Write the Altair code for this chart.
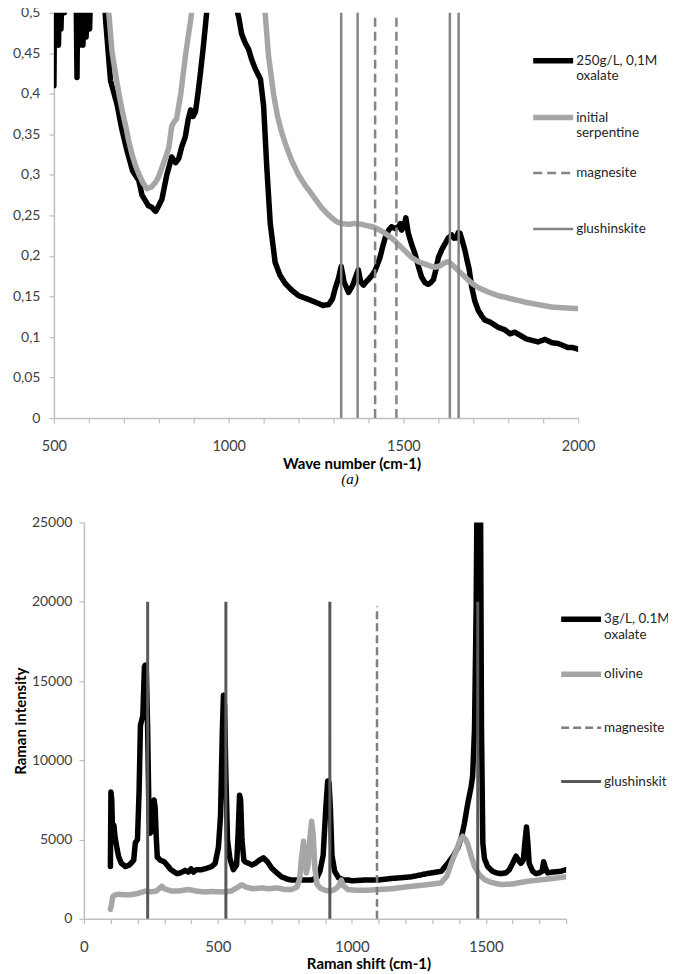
import altair as alt
import pandas as pd

FONT = "Lato"

# ---------------- (a) FTIR data ----------------
ftir_series = ["250g/L, 0,1M oxalate", "initial serpentine", "magnesite", "glushinskite"]

ftir_oxalate_wn = [500, 502, 504, 507, 510, 513, 516, 520, 525, 530, 536, 542, 550, 558, 563, 566, 568, 571,
                   575, 579, 583, 587, 592, 597, 602, 607, 615, 625, 635, 643, 648, 662, 680, 695, 709, 725,
                   743, 752, 762, 770, 780, 791, 800, 809, 823, 837, 848, 857, 866, 876, 884, 891, 898, 905,
                   912, 919, 928, 937, 950, 970, 990, 1010, 1023, 1029, 1037, 1047, 1057, 1066, 1076, 1084,
                   1091, 1100, 1109, 1119, 1133, 1147, 1162, 1180, 1200, 1225, 1248, 1270, 1286, 1297, 1305,
                   1314, 1322, 1330, 1343, 1350, 1357, 1364, 1371, 1378, 1386, 1393, 1400, 1410, 1419, 1426,
                   1433, 1441, 1449, 1458, 1466, 1476, 1486, 1491, 1495, 1501, 1507, 1514, 1523, 1533, 1543,
                   1552, 1562, 1571, 1578, 1586, 1593, 1600, 1610, 1619, 1628, 1638, 1645, 1652, 1657, 1662,
                   1669, 1676, 1682, 1688, 1695, 1704, 1714, 1724, 1733, 1750, 1771, 1790, 1805, 1819, 1835,
                   1850, 1867, 1885, 1905, 1925, 1943, 1960, 1971, 1985, 2000]
ftir_oxalate_abs = [0.41, 0.53, 0.47, 0.52, 0.48, 0.46, 0.53, 0.48, 0.55, 0.50, 0.58, 0.60, 0.62, 0.58, 0.55,
                    0.42, 0.52, 0.47, 0.46, 0.53, 0.46, 0.50, 0.47, 0.52, 0.48, 0.56, 0.65, 0.70, 0.62, 0.53,
                    0.49, 0.416, 0.388, 0.355, 0.33, 0.305, 0.293, 0.275, 0.268, 0.262, 0.26, 0.255, 0.262,
                    0.27, 0.30, 0.322, 0.315, 0.32, 0.335, 0.347, 0.368, 0.38, 0.372, 0.378, 0.40, 0.425,
                    0.46, 0.50, 0.58, 0.70, 0.70, 0.60, 0.505, 0.494, 0.474, 0.463, 0.455, 0.442, 0.431,
                    0.424, 0.418, 0.385, 0.31, 0.24, 0.192, 0.176, 0.166, 0.158, 0.151, 0.147, 0.143, 0.139,
                    0.140, 0.147, 0.160, 0.172, 0.187, 0.168, 0.155, 0.160, 0.166, 0.175, 0.183, 0.168, 0.164,
                    0.168, 0.171, 0.176, 0.182, 0.190, 0.198, 0.212, 0.224, 0.232, 0.236, 0.234, 0.236, 0.240,
                    0.232, 0.236, 0.247, 0.228, 0.215, 0.203, 0.187, 0.174, 0.167, 0.165, 0.167, 0.171, 0.183,
                    0.198, 0.208, 0.215, 0.222, 0.226, 0.222, 0.222, 0.229, 0.228, 0.218, 0.207, 0.195, 0.184,
                    0.163, 0.145, 0.133, 0.126, 0.121, 0.118, 0.112, 0.109, 0.104, 0.106, 0.102, 0.098, 0.096,
                    0.094, 0.097, 0.093, 0.092, 0.089, 0.087, 0.087, 0.085]

ftir_serp_wn = [500, 600, 640, 657, 666, 676, 686, 696, 706, 714, 723, 733, 743, 755, 766, 779, 791, 800, 809,
                820, 829, 837, 845, 851, 857, 863, 870, 877, 884, 891, 894, 910, 950, 1000, 1060, 1090, 1105,
                1114, 1129, 1140, 1152, 1165, 1181, 1200, 1219, 1235, 1248, 1265, 1280, 1295, 1310, 1324,
                1345, 1360, 1381, 1400, 1419, 1440, 1457, 1472, 1486, 1505, 1524, 1543, 1562, 1580, 1591,
                1605, 1620, 1629, 1640, 1657, 1672, 1686, 1700, 1714, 1740, 1771, 1810, 1848, 1885, 1924,
                1960, 2000]
ftir_serp_abs = [0.80, 0.70, 0.56, 0.50, 0.453, 0.425, 0.40, 0.378, 0.359, 0.342, 0.326, 0.312, 0.301, 0.29,
                 0.283, 0.285, 0.291, 0.298, 0.309, 0.322, 0.334, 0.36, 0.366, 0.369, 0.385, 0.40, 0.425,
                 0.449, 0.47, 0.49, 0.50, 0.60, 0.80, 0.90, 0.70, 0.56, 0.496, 0.447, 0.398, 0.372, 0.352,
                 0.335, 0.317, 0.30, 0.287, 0.278, 0.270, 0.26, 0.253, 0.247, 0.242, 0.240, 0.239, 0.240,
                 0.239, 0.237, 0.235, 0.230, 0.225, 0.220, 0.214, 0.206, 0.198, 0.193, 0.190, 0.187, 0.186,
                 0.188, 0.192, 0.193, 0.189, 0.182, 0.176, 0.170, 0.165, 0.161, 0.156, 0.151, 0.147, 0.143,
                 0.140, 0.137, 0.136, 0.135]

ftir_magnesite_wn = [1419, 1480]
ftir_glushinskite_wn = [1322, 1369, 1633, 1658]
ftir_rule_low = 0
ftir_rule_high = 0.5

# ---------------- (b) Raman data ----------------
raman_series = ["3g/L, 0.1M oxalate", "olivine", "magnesite", "glushinskit"]

raman_oxalate_shift = [99, 101, 104, 108, 112, 116, 124, 130, 140, 155, 170, 186, 192, 200, 206, 211, 220, 226,
                       229, 233, 238, 243, 247, 252, 257, 262, 266, 270, 274, 285, 300, 310, 325, 347, 360,
                       378, 390, 400, 409, 420, 440, 460, 477, 490, 502, 510, 517, 521, 525, 530, 536, 545,
                       558, 570, 576, 581, 585, 590, 597, 602, 615, 626, 640, 655, 670, 685, 701, 720, 738,
                       760, 775, 800, 825, 850, 870, 881, 893, 903, 910, 915, 920, 926, 936, 950, 970, 986,
                       1000, 1050, 1098, 1150, 1222, 1280, 1334, 1358, 1380, 1396, 1410, 1420, 1433, 1445,
                       1451, 1458, 1464, 1468, 1474, 1480, 1484, 1489, 1495, 1507, 1525, 1540, 1557, 1575,
                       1588, 1600, 1613, 1622, 1631, 1640, 1647, 1652, 1657, 1662, 1675, 1687, 1700, 1710,
                       1716, 1721, 1730, 1750, 1780, 1800]
raman_oxalate_int = [3300, 8000, 7500, 5000, 5900, 5200, 4400, 3900, 3500, 3300, 3400, 3700, 4800, 5000, 8000,
                     12200, 12800, 15900, 16000, 15700, 12000, 6500, 5400, 5500, 7000, 7500, 7000, 5200, 3900,
                     3700, 3600, 3400, 3100, 2850, 2900, 3050, 2950, 3150, 2950, 3100, 3100, 3200, 3300, 3500,
                     4500, 6500, 12000, 14100, 13500, 9000, 5000, 3800, 3100, 3400, 5500, 7800, 7500, 5000,
                     3700, 3600, 3500, 3400, 3500, 3700, 3850, 3600, 3200, 2900, 2650, 2500, 2450, 2450, 2450,
                     2450, 2600, 3000, 4000, 7000, 8700, 8600, 7000, 4000, 3000, 2600, 2450, 2450, 2400, 2450,
                     2450, 2550, 2650, 2850, 3000, 3500, 4000, 4500, 5200, 6000, 7300, 8300, 9000, 12000,
                     19500, 28000, 32000, 28000, 12000, 4800, 3800, 3300, 3000, 2900, 2850, 2900, 3100, 3500,
                     3950, 3700, 3500, 3700, 5000, 5800, 4800, 3500, 3000, 2850, 2900, 3000, 3600, 3300, 2900,
                     2950, 3000, 3100]

raman_olivine_shift = [99, 103, 108, 115, 130, 150, 180, 200, 229, 250, 270, 291, 300, 328, 350, 370, 391, 420,
                       450, 477, 520, 550, 575, 589, 605, 630, 664, 690, 720, 750, 775, 795, 805, 812, 820, 826,
                       830, 838, 844, 850, 856, 862, 870, 881, 900, 920, 936, 950, 961, 968, 986, 1020, 1060,
                       1098, 1150, 1222, 1280, 1334, 1355, 1371, 1390, 1405, 1414, 1425, 1433, 1445, 1458,
                       1475, 1495, 1520, 1557, 1600, 1656, 1700, 1750, 1800]
raman_olivine_int = [600, 900, 1400, 1500, 1550, 1520, 1530, 1600, 1750, 1700, 1750, 2050, 1900, 1750, 1750,
                     1800, 1850, 1750, 1700, 1720, 1700, 1750, 2000, 2150, 2000, 1900, 1950, 1900, 1950, 1850,
                     1850, 2000, 2500, 3800, 4900, 3600, 2900, 3500, 5200, 6150, 5300, 3200, 2200, 1950, 1800,
                     1750, 1850, 2050, 2450, 2100, 1850, 1800, 1800, 1850, 1900, 2050, 2150, 2270, 2700, 3500,
                     4300, 5000, 5200, 5000, 4700, 4000, 3300, 2800, 2480, 2300, 2160, 2200, 2370, 2450, 2550,
                     2650]

raman_magnesite_shift = [1094]
raman_glushinskit_shift = [238, 530, 918, 1470]
raman_rule_low = 0
raman_rule_high = 20000
raman_magnesite_high = 19700

# ---------------- tables ----------------
ftir_lines = pd.concat([
    pd.DataFrame({"x": ftir_oxalate_wn, "y": ftir_oxalate_abs, "series": ftir_series[0]}),
    pd.DataFrame({"x": ftir_serp_wn, "y": ftir_serp_abs, "series": ftir_series[1]}),
], ignore_index=True)
ftir_rules = pd.concat([
    pd.DataFrame({"x": ftir_magnesite_wn, "lo": ftir_rule_low, "hi": ftir_rule_high, "series": ftir_series[2]}),
    pd.DataFrame({"x": ftir_glushinskite_wn, "lo": ftir_rule_low, "hi": ftir_rule_high, "series": ftir_series[3]}),
], ignore_index=True)

raman_lines = pd.concat([
    pd.DataFrame({"x": raman_oxalate_shift, "y": raman_oxalate_int, "series": raman_series[0]}),
    pd.DataFrame({"x": raman_olivine_shift, "y": raman_olivine_int, "series": raman_series[1]}),
], ignore_index=True)
raman_rules = pd.concat([
    pd.DataFrame({"x": raman_magnesite_shift, "lo": raman_rule_low, "hi": raman_magnesite_high, "series": raman_series[2]}),
    pd.DataFrame({"x": raman_glushinskit_shift, "lo": raman_rule_low, "hi": raman_rule_high, "series": raman_series[3]}),
], ignore_index=True)

AXIS_GREY = "#bfbfbf"
LABEL_COL = "#404040"


def legend(x, y, labels_expr, row_pad, font_size):
    return alt.Legend(
        title=None, orient="none", legendX=x, legendY=y, direction="vertical",
        symbolType="stroke", symbolSize=1600, labelFont=FONT, labelFontSize=font_size,
        labelColor="#262626", labelExpr=labels_expr, labelBaseline="middle",
        rowPadding=row_pad, labelOffset=0, labelLimit=200,
    )


# ---------------- (a) chart ----------------
ftir_x = alt.Scale(domain=[500, 2000], nice=False)
ftir_y = alt.Scale(domain=[0, 0.5], nice=False)
ftir_color = alt.Scale(domain=ftir_series, range=["#000000", "#a6a6a6", "#858585", "#858585"])
ftir_dash = alt.Scale(domain=ftir_series, range=[[1, 0], [1, 0], [9, 5], [1, 0]])
ftir_width = alt.Scale(type="ordinal", domain=ftir_series, range=[5.5, 5.5, 2.5, 2.5])
ftir_leg = legend(477, 25,
                  "datum.label == '250g/L, 0,1M oxalate' ? ['250g/L, 0,1M', 'oxalate'] : "
                  "datum.label == 'initial serpentine' ? ['initial', 'serpentine'] : [datum.label, '']",
                  12, 13.5)

ftir_xaxis = alt.Axis(values=list(range(500, 2001, 100)), format="d",
                      labelExpr="datum.value % 500 == 0 ? datum.label : ''",
                      title="Wave number (cm-1)", titleX=298, grid=False, tickSize=5,
                      labelPadding=16, labelFontSize=14.5, labelFlush=False, labelOverlap=False,
                      titlePadding=4)
ftir_yaxis = alt.Axis(values=[0, 0.05, 0.1, 0.15, 0.2, 0.25, 0.3, 0.35, 0.4, 0.45, 0.5],
                      labelExpr="replace(format(datum.value, '.2~f'), '.', ',')",
                      title="Absorbance", grid=False, tickSize=5, labelPadding=9,
                      labelFontSize=14, titlePadding=5)

ftir_enc = dict(
    color=alt.Color("series:N", scale=ftir_color, legend=ftir_leg),
    strokeDash=alt.StrokeDash("series:N", scale=ftir_dash, legend=ftir_leg),
    strokeWidth=alt.StrokeWidth("series:N", scale=ftir_width, legend=ftir_leg),
)

ftir_line_layer = alt.Chart(ftir_lines).mark_line(clip=True, strokeJoin="round", strokeCap="round").encode(
    x=alt.X("x:Q", scale=ftir_x, axis=ftir_xaxis),
    y=alt.Y("y:Q", scale=ftir_y, axis=ftir_yaxis),
    order=alt.Order("x:Q"),
    **ftir_enc,
)
ftir_rule_layer = alt.Chart(ftir_rules).mark_rule().encode(
    x=alt.X("x:Q", scale=ftir_x, axis=ftir_xaxis),
    y=alt.Y("lo:Q", scale=ftir_y, axis=ftir_yaxis),
    y2="hi:Q",
    **ftir_enc,
)
ftir_chart = alt.layer(ftir_line_layer, ftir_rule_layer).properties(
    width=525, height=406,
    title=alt.TitleParams("(a)", orient="bottom", anchor="middle", frame="group", dx=34, offset=0,
                          font="Liberation Serif", fontStyle="italic", fontWeight="normal",
                          fontSize=15, color="#000000"),
)

# ---------------- (b) chart ----------------
raman_x = alt.Scale(domain=[0, 1800], nice=False, range=[30, 513])
raman_y = alt.Scale(domain=[0, 25000], nice=False)
raman_color = alt.Scale(domain=raman_series, range=["#000000", "#a6a6a6", "#7f7f7f", "#595959"])
raman_dash = alt.Scale(domain=raman_series, range=[[1, 0], [1, 0], [8, 4], [1, 0]])
raman_width = alt.Scale(type="ordinal", domain=raman_series, range=[5.5, 5.5, 2.5, 3])
raman_leg = legend(505, 74,
                   "datum.label == '3g/L, 0.1M oxalate' ? ['3g/L, 0.1M', 'oxalate'] : [datum.label, '']",
                   10, 13.5)

raman_xaxis = alt.Axis(values=list(range(0, 1801, 100)), format="d",
                       labelExpr="datum.value % 500 == 0 ? datum.label : ''",
                       title="Raman shift (cm-1)", titleX=315, grid=False, tickSize=5,
                       labelPadding=16, labelFontSize=15, labelFlush=False, labelOverlap=False,
                       titlePadding=2)
raman_yaxis = alt.Axis(values=[0, 5000, 10000, 15000, 20000, 25000], format="d",
                       title="Raman intensity", grid=False, tickSize=5, labelPadding=7,
                       labelFontSize=14, titlePadding=3, offset=-30)

raman_enc = dict(
    color=alt.Color("series:N", scale=raman_color, legend=raman_leg),
    strokeDash=alt.StrokeDash("series:N", scale=raman_dash, legend=raman_leg),
    strokeWidth=alt.StrokeWidth("series:N", scale=raman_width, legend=raman_leg),
)

raman_line_layer = alt.Chart(raman_lines).mark_line(clip=True, strokeJoin="round", strokeCap="round").encode(
    x=alt.X("x:Q", scale=raman_x, axis=raman_xaxis),
    y=alt.Y("y:Q", scale=raman_y, axis=raman_yaxis),
    order=alt.Order("x:Q"),
    **raman_enc,
)
raman_rule_layer = alt.Chart(raman_rules).mark_rule().encode(
    x=alt.X("x:Q", scale=raman_x, axis=raman_xaxis),
    y=alt.Y("lo:Q", scale=raman_y, axis=raman_yaxis),
    y2="hi:Q",
    **raman_enc,
)
raman_chart = alt.layer(raman_line_layer, raman_rule_layer).properties(width=513, height=397)

chart = alt.vconcat(ftir_chart, raman_chart, spacing=28.5).resolve_scale(
    color="independent", strokeDash="independent", strokeWidth="independent"
).resolve_legend(
    color="independent", strokeDash="independent", strokeWidth="independent"
).properties(
    padding={"left": -16, "top": -3, "right": -2, "bottom": 0},
).configure_view(strokeWidth=0).configure_axis(
    domainColor=AXIS_GREY, tickColor=AXIS_GREY, domainWidth=1.5, tickWidth=1.2,
    labelFont=FONT, labelColor=LABEL_COL, titleFont=FONT, titleFontSize=15,
    titleFontWeight="bold", titleColor="#000000",
)

chart.save("out.html", embed_options={"renderer": "svg", "actions": False})
